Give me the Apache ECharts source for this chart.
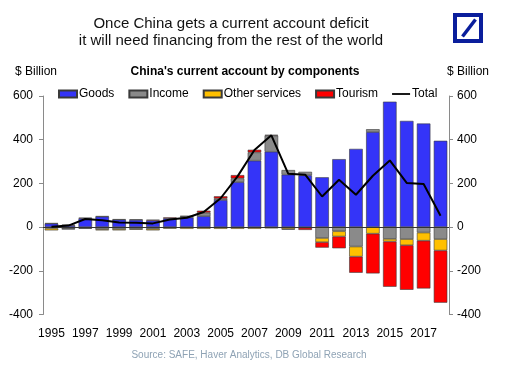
<!DOCTYPE html>
<html>
<head>
<meta charset="utf-8">
<script src="https://cdn.jsdelivr.net/npm/echarts@6/dist/echarts.min.js"></script>
<style>html,body{margin:0;padding:0;background:#fff}#c{width:522px;height:367px}</style>
</head>
<body>
<div id="c"></div>
<script>
var years = ['1995','1996','1997','1998','1999','2000','2001','2002','2003','2004','2005','2006','2007','2008','2009','2010','2011','2012','2013','2014','2015','2016','2017','2018'];
var goods   = [16, 8, 40, 48, 34, 33, 30, 40, 44, 50, 124, 206, 304, 345, 240, 237, 228, 311, 358, 435, 574, 486, 474, 395];
var income  = [-6, -8, -5, -10, -9, -8, -8, -3, 5, 16, 7, 17, 38, 74, 21, 16, -50, -19, -89, 13, -54, -55, -25, -55];
var otherServices = [-9, -2, -2, -5, -6, -4, -7, -4, -8, -8, -8, -8, -8, -6, -9, -3, -19, -24, -46, -30, -12, -28, -37, -52];
var tourism = [2, 3, 3, 2, 2, 2, 4, 4, 2, 9, 10, 15, 12, 3, -2, -10, -25, -54, -74, -182, -207, -204, -219, -239];
var total   = [2, 7, 37, 31, 21, 20, 17, 35, 43, 69, 132, 232, 353, 420, 244, 240, 140, 217, 148, 235, 305, 202, 197, 52];
var yTicks = {min: -400, max: 600, interval: 200};

var FONT = "'Liberation Sans', Arial, sans-serif";
var chart = echarts.init(document.getElementById('c'), null, {renderer: 'canvas'});
function barSeries(name, data, color) {
  return {
    name: name, type: 'bar', stack: 'ca', data: data,
    barCategoryGap: '20%',
    itemStyle: {color: color, borderColor: '#3a3a3a', borderWidth: 0.6},
    emphasis: {disabled: true}
  };
}
var goodsSeries = barSeries('Goods', goods, '#3434F8');
goodsSeries.markLine = {
  silent: true, symbol: 'none', label: {show: false},
  lineStyle: {color: '#333', width: 1, type: 'solid'},
  data: [{yAxis: 0}]
};
var yAxisBase = {
  type: 'value', min: yTicks.min, max: yTicks.max, interval: yTicks.interval,
  splitLine: {show: false},
  axisLine: {show: true, lineStyle: {color: '#8a8a8a', width: 1}},
  axisTick: {show: true, length: 4, lineStyle: {color: '#8a8a8a'}},
  axisLabel: {color: '#000', fontSize: 12, fontFamily: FONT}
};
chart.setOption({
  animation: false,
  textStyle: {fontFamily: FONT},
  title: [
    {text: 'Once China gets a current account deficit\nit will need financing from the rest of the world',
     left: 226, textAlign: 'center', top: 10,
     textStyle: {fontSize: 15, fontWeight: 'normal', color: '#111', lineHeight: 17, fontFamily: FONT}},
    {text: "China's current account by components", left: 240, textAlign: 'center', top: 61,
     textStyle: {fontSize: 12, fontWeight: 'bold', color: '#000', fontFamily: FONT}},
    {text: '$ Billion', left: 10, top: 61, textStyle: {fontSize: 12, fontWeight: 'normal', color: '#000', fontFamily: FONT}},
    {text: '$ Billion', left: 442, top: 61, textStyle: {fontSize: 12, fontWeight: 'normal', color: '#000', fontFamily: FONT}},
    {text: 'Source: SAFE, Haver Analytics, DB Global Research', left: 244, textAlign: 'center', top: 345,
     textStyle: {fontSize: 10, fontWeight: 'normal', color: '#8fa3b5', fontFamily: FONT}}
  ],
  legend: {
    left: 58, top: 88, padding: 0, itemWidth: 18, itemHeight: 7, itemGap: 14,
    textStyle: {fontSize: 12, color: '#000', fontFamily: FONT, padding: [0, 0, 0, -3]},
    data: [
      {name: 'Goods', icon: 'rect'},
      {name: 'Income', icon: 'rect'},
      {name: 'Other services', icon: 'rect'},
      {name: 'Tourism', icon: 'rect'},
      {name: 'Total', icon: 'path://M0,0M0,2.6H18V4.4H0ZM18,7', itemStyle: {color: '#000', borderWidth: 0}}
    ]
  },
  grid: {left: 43, right: 73, top: 96, bottom: 52.5, containLabel: false},
  xAxis: {
    type: 'category', data: years,
    axisLine: {show: false, onZero: false},
    axisTick: {show: false},
    axisLabel: {interval: 1, color: '#000', fontSize: 12, margin: 13, fontFamily: FONT}
  },
  yAxis: [
    Object.assign({}, yAxisBase, {position: 'left', axisLabel: Object.assign({}, yAxisBase.axisLabel, {margin: 10})}),
    Object.assign({}, yAxisBase, {position: 'right', axisLabel: Object.assign({}, yAxisBase.axisLabel, {margin: 8})})
  ],
  series: [
    goodsSeries,
    barSeries('Income', income, '#8a8a8a'),
    barSeries('Other services', otherServices, '#FFC000'),
    barSeries('Tourism', tourism, '#FF0000'),
    {name: 'Total', type: 'line', data: total, symbol: 'none', z: 5,
     lineStyle: {color: '#000', width: 2}, itemStyle: {color: '#000'}}
  ],
  graphic: [
    {type: 'rect', shape: {x: 455, y: 15, width: 26, height: 26},
     style: {fill: '#fff', stroke: '#0a1e9c', lineWidth: 4}},
    {type: 'line', shape: {x1: 462.5, y1: 36.5, x2: 475.5, y2: 19.5},
     style: {stroke: '#0a1e9c', lineWidth: 3.5}}
  ]
});
</script>
</body>
</html>
